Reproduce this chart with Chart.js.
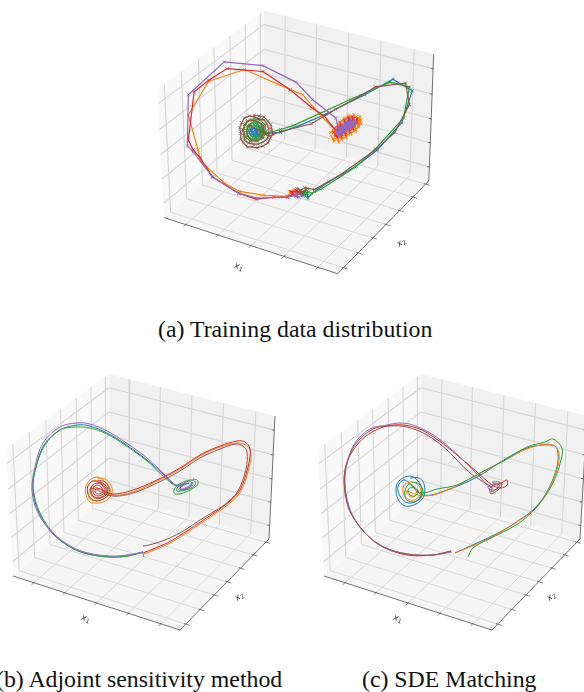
<!DOCTYPE html>
<html>
<head>
<meta charset="utf-8">
<script src="https://cdn.jsdelivr.net/npm/chart.js@4"></script>
<style>
  body { margin: 0; background: #fff; width: 584px; height: 692px; overflow: hidden; position: relative; }
  canvas { position: absolute; }
  .cap { position: absolute; font-family: "Liberation Serif", serif; font-size: 23.8px; color: #111; white-space: nowrap; }
  .ax { position: absolute; font-family: "DejaVu Sans", sans-serif; font-style: italic; font-size: 8.5px; color: #333; white-space: nowrap; }
  .ax sub { font-size: 6px; font-style: normal; vertical-align: -1.5px; line-height: 0; }
</style>
</head>
<body>
<canvas id="panelA" width="310" height="290" style="left:140px;top:0"></canvas>
<canvas id="panelB" width="290" height="270" style="left:0;top:370px"></canvas>
<canvas id="panelC" width="284" height="270" style="left:300px;top:370px"></canvas>

<div class="cap" style="left:158px;top:316px">(a) Training data distribution</div>
<div class="cap" style="left:-4px;top:666px">(b) Adjoint sensitivity method</div>
<div class="cap" style="left:362px;top:666px">(c) SDE Matching</div>

<div class="ax" style="left:239px;top:266px;transform:translate(-50%,-50%) rotate(18deg)">x<sub>1</sub></div>
<div class="ax" style="left:401px;top:242px;transform:translate(-50%,-50%) rotate(-35deg)">x<sub>2</sub></div>
<div class="ax" style="left:86px;top:618px;transform:translate(-50%,-50%) rotate(18deg)">x<sub>1</sub></div>
<div class="ax" style="left:239px;top:596px;transform:translate(-50%,-50%) rotate(-35deg)">x<sub>2</sub></div>
<div class="ax" style="left:398px;top:618px;transform:translate(-50%,-50%) rotate(18deg)">x<sub>1</sub></div>
<div class="ax" style="left:551px;top:596px;transform:translate(-50%,-50%) rotate(-35deg)">x<sub>2</sub></div>

<script>
// tick positions along each box edge, as a share of the edge length
const x1Ticks = [0.125, 0.31, 0.50, 0.69, 0.885];
const x2Ticks = [0.065, 0.225, 0.385, 0.53, 0.68, 0.825, 0.965];
const x3Ticks = [0.115, 0.316, 0.51, 0.70, 0.89];

// box corners: back top, right top, left top, left bottom, front, right bottom, back bottom
const boxA = [[263,6],[438,51],[153,87],[160,220],[339,278],[433,182],[263,133]];
const boxB = [[109,374],[275,416],[6,449],[13,576],[180,630],[269,539],[109,494]];
const boxC = [[421,374],[587,416],[318,449],[324,576],[492,630],[580,539],[421,494]];

const seriesColors = ['#1f77b4','#ff7f0e','#2ca02c','#d62728','#9467bd','#8c564b'];

// (a) training data
const aBlue = [[254,125],[258,126],[261,130],[259,135],[255,137],[250,136],[248,132],[250,127],[254,128],[258,129],[258,134],[254,135],[251,134],[250,130],[253,127],[256,130],[256,133],[253,134],[252,131],[254,130],[255,132],[258,136],[265,133],[280,132],[297,126],[327,113],[367,93],[396,77],[416,89],[405,122],[380,150],[358,167],[330,183],[315,193],[308,200],[308,195],[303,197],[306,193],[301,195]];
const aOrange = [[332,135],[335,141],[337,128],[343,139],[341,122],[348,137],[346,118],[353,133],[351,115],[358,130],[356,114],[363,123],[362,116],[360,126],[355,118],[353,127],[349,120],[348,131],[344,124],[344,134],[340,127],[340,142],[335,131],[339,137],[345,138],[350,134],[356,131],[361,126],[363,119],[358,116],[353,116],[348,117],[343,120],[339,124],[335,128],[332,132],[337,130],[322,115],[303,93],[277,82],[243,67],[206,79],[185,114],[195,150],[198,162],[223,185],[238,193],[263,197],[287,198],[293,192],[297,195],[291,194],[298,191],[295,197],[301,193],[289,193]];
const aGreen = [[253,118],[259,119],[264,124],[265,131],[262,138],[256,141],[249,141],[244,137],[242,130],[244,123],[249,119],[254,121],[260,123],[262,130],[260,136],[254,139],[248,138],[245,132],[246,125],[251,122],[256,123],[260,127],[259,134],[254,137],[249,135],[247,130],[249,125],[253,124],[265,133],[280,129],[293,125],[352,98],[393,80],[413,85],[407,117],[378,149],[357,168],[323,190],[312,195],[306,191],[303,197],[300,192],[306,198],[301,195],[309,194]];
const aRed = [[335,132],[338,137],[339,127],[343,136],[342,123],[347,134],[346,120],[351,131],[350,117],[355,128],[354,116],[359,122],[359,118],[356,124],[352,119],[350,127],[347,122],[345,131],[342,126],[340,133],[337,130],[325,115],[313,107],[290,88],[262,69],[225,66],[206,78],[191,90],[185,140],[190,150],[197,158],[210,178],[237,195],[255,201],[273,199],[287,199],[292,196],[296,198],[291,193],[299,194],[295,191],[302,196]];
const aPurple = [[337,130],[340,136],[340,127],[344,134],[343,124],[347,132],[346,122],[350,130],[349,120],[353,128],[352,118],[356,125],[356,118],[358,122],[354,121],[350,125],[346,127],[342,130],[338,133],[341,131],[345,129],[349,127],[353,124],[357,120],[355,123],[351,123],[347,125],[343,128],[339,131],[342,133],[346,131],[350,128],[354,126],[352,121],[348,122],[344,125],[340,129],[337,117],[313,98],[296,80],[262,63],[222,59],[185,93],[184,146],[190,152],[210,178],[237,195],[257,200],[280,199],[288,199],[294,197],[299,199],[296,195],[302,197],[300,194]];
const aBrown = [[253,114],[258,115],[263,116],[267,120],[270,124],[271,129],[272,134],[269,139],[267,143],[262,146],[256,148],[251,147],[246,147],[242,143],[239,139],[239,133],[238,127],[240,122],[243,117],[248,115],[253,116],[258,118],[263,119],[266,123],[268,128],[268,134],[266,139],[262,142],[257,144],[252,144],[247,143],[243,140],[242,135],[241,129],[243,124],[246,120],[251,119],[257,121],[262,125],[263,131],[261,137],[256,140],[250,140],[246,136],[245,130],[248,124],[268,136],[280,131],[312,123],[337,108],[363,94],[378,85],[409,81],[413,103],[398,132],[378,150],[343,175],[315,191],[305,189],[301,192],[297,190],[303,194],[308,190],[300,195]];

// (b) adjoint sensitivity
const bBlue = [[191,483],[191,486],[186,489],[181,490],[180,488],[184,485],[189,483],[178,485],[173,484],[163,474],[147,460],[125,444],[107,433],[90,426],[77,425],[60,430],[44,445],[36,467],[33,490],[39,513],[53,534],[72,548],[88,554],[110,557],[127,556],[143,552]];
const bOrange = [[97,478],[105,479],[111,485],[112,493],[107,500],[98,503],[90,502],[86,495],[86,486],[90,480],[97,477],[103,480],[109,486],[110,493],[105,498],[97,501],[90,499],[88,493],[88,485],[93,481],[99,481],[106,486],[107,493],[101,498],[94,498],[90,492],[92,486],[112,495],[133,492],[157,481],[180,469],[200,456],[220,447],[238,443],[247,446],[251,452],[249,468],[241,491],[231,502],[218,512],[203,522],[188,532],[168,544],[144,554]];
const bGreen = [[193,479],[197,480],[198,484],[192,489],[183,493],[175,494],[174,490],[178,485],[186,481],[193,480],[195,482],[195,485],[189,489],[181,491],[177,491],[177,488],[182,484],[176,486],[163,476],[147,461],[125,445],[107,434],[90,428],[75,427],[60,430],[45,445],[36,467],[33,487],[40,513],[55,535],[72,548],[88,554],[110,557],[128,556],[142,553],[144,557]];
const bRed = [[98,482],[104,484],[108,489],[106,495],[100,498],[94,497],[91,492],[92,486],[97,483],[102,485],[105,490],[103,494],[98,496],[94,494],[93,489],[96,485],[101,487],[103,491],[99,494],[95,492],[97,488],[112,494],[133,490],[157,480],[180,468],[200,455],[220,446],[237,441],[245,442],[250,449],[248,467],[240,490],[230,501],[217,511],[202,521],[187,531],[167,543],[143,553]];
const bPurple = [[192,482],[193,485],[187,488],[180,490],[178,489],[179,486],[184,483],[190,481],[192,483],[191,485],[185,488],[180,489],[180,487],[185,484],[178,486],[173,483],[163,473],[147,458],[125,442],[107,431],[90,424],[77,423],[60,427],[43,443],[35,467],[32,490],[38,513],[53,533],[72,547],[88,553],[110,556],[127,555],[143,552]];
const bBrown = [[98,480],[105,482],[109,488],[108,495],[101,500],[93,500],[88,494],[88,486],[93,481],[100,483],[106,488],[105,494],[98,498],[92,495],[91,488],[112,496],[133,493],[157,483],[180,471],[200,458],[220,449],[236,444],[243,446],[247,452],[246,469],[238,491],[228,502],[215,511],[200,520],[185,530],[165,540],[149,545],[143,546]];

// (c) SDE matching
const cBlue = [[410,478],[419,478],[424,484],[424,496],[416,504],[405,506],[398,499],[396,488],[400,480],[410,476],[418,481],[422,490],[418,500],[408,503],[400,496],[398,486],[405,480],[423,495],[447,490],[477,477],[507,458],[527,448],[543,445],[555,446],[558,453],[557,467],[548,490],[535,508],[518,521],[500,532],[477,543],[455,553]];
const cOrange = [[408,482],[416,483],[421,490],[418,498],[410,500],[404,495],[403,487],[408,483],[415,488],[416,495],[411,497],[406,491],[423,496],[443,492],[477,475],[507,459],[527,449],[547,444],[557,448],[559,460],[552,483],[537,507],[520,520],[499,533],[477,544],[455,553]];
const cGreen = [[412,482],[419,484],[423,491],[420,499],[412,502],[406,499],[405,491],[409,484],[414,487],[418,491],[415,496],[410,495],[408,490],[412,487],[422,493],[437,489],[457,485],[480,473],[507,459],[527,447],[545,442],[553,439],[562,448],[561,460],[553,483],[540,503],[522,521],[507,530],[487,540],[473,548],[468,557]];
const cRed = [[497,485],[503,482],[507,480],[507,485],[501,488],[492,485],[477,472],[457,455],[438,440],[417,428],[393,425],[372,432],[357,445],[346,465],[345,490],[350,510],[355,520],[367,535],[383,547],[407,555],[433,555],[451,551]];
const cPurple = [[493,483],[497,485],[498,488],[493,490],[488,488],[490,485],[496,484],[490,487],[480,477],[463,460],[443,442],[430,433],[413,425],[400,423],[387,425],[370,429],[355,443],[347,463],[345,483],[348,503],[355,520],[367,535],[383,547],[407,554],[433,555],[452,552]];
const cBrown = [[492,482],[499,482],[502,485],[498,490],[491,494],[490,492],[490,488],[496,484],[500,484],[498,488],[491,492],[492,488],[490,486],[470,473],[447,450],[427,435],[407,427],[390,426],[373,429],[355,445],[346,467],[344,483],[348,507],[355,520],[367,535],[384,547],[407,554],[433,555],[451,551]];

function lerp(p, q, t) {
  return { x: p[0] + (q[0] - p[0]) * t, y: p[1] + (q[1] - p[1]) * t };
}

// point on a four corner face, u along the near and far edge, v from near to far
function onFace(a, b, c, d, u, v) {
  const p = lerp(a, b, u), q = lerp(c, d, u);
  return lerp([p.x, p.y], [q.x, q.y], v);
}

function edge(points, color, width) {
  return { data: points, borderColor: color, borderWidth: width, pointRadius: 0, showLine: true, tension: 0 };
}

function makePanel(id, box, curves, marked) {
  const canvas = document.getElementById(id);
  const left = parseInt(canvas.style.left), top = parseInt(canvas.style.top);
  const [bt, rt, lt, lb, fr, rb, bb] = box;
  const sets = [];
  const toPts = list => list.map(p => ({ x: p[0], y: p[1] }));

  // panes
  [[[lt, bt, bb, lb], '#f9f9f9'], [[bt, rt, rb, bb], '#f1f1f1'], [[lb, fr, rb, bb], '#f5f5f5']].forEach(([quad, color]) => {
    sets.push({ data: toPts(quad.concat([quad[0]])), borderColor: color, borderWidth: 0, backgroundColor: color, fill: 'shape', pointRadius: 0, showLine: true, tension: 0 });
  });

  // grid lines on walls and floor
  const gridColor = '#d6d6d6';
  x1Ticks.forEach(t => {
    sets.push(edge([lerp(bt, rt, t), lerp(bb, rb, t)], gridColor, 1.1));
    sets.push(edge([lerp(bb, rb, t), lerp(lb, fr, t)], gridColor, 0.9));
  });
  x2Ticks.forEach(t => {
    sets.push(edge([lerp(lt, bt, t), lerp(lb, bb, t)], gridColor, 1.1));
    sets.push(edge([lerp(lb, bb, t), lerp(fr, rb, t)], gridColor, 0.9));
  });
  x3Ticks.forEach(t => {
    sets.push(edge([lerp(lt, lb, t), lerp(bt, bb, t)], gridColor, 1.1));
    sets.push(edge([lerp(bt, bb, t), lerp(rt, rb, t)], gridColor, 1.1));
  });

  // axis lines and tick marks
  const axisColor = '#707070';
  sets.push(edge(toPts([lb, fr, rb]), axisColor, 1));
  sets.push(edge(toPts([rt, rb]), axisColor, 1));
  x1Ticks.forEach(t => sets.push(edge([onFace(lb, fr, bb, rb, t, -0.025), onFace(lb, fr, bb, rb, t, 0.01)], '#555', 0.7)));
  x2Ticks.forEach(t => sets.push(edge([onFace(fr, rb, lb, bb, t, -0.025), onFace(fr, rb, lb, bb, t, 0.01)], '#555', 0.7)));
  x3Ticks.forEach(t => {
    const p = lerp(rt, rb, t);
    sets.push(edge([{ x: p.x - 2.5, y: p.y - 0.3 }, { x: p.x + 0.5, y: p.y }], '#555', 0.7));
  });

  // trajectories, later series on top
  curves.forEach((curve, i) => {
    sets.push({
      data: toPts(curve),
      borderColor: seriesColors[i],
      backgroundColor: seriesColors[i],
      borderWidth: marked ? 1.2 : 1,
      showLine: true,
      tension: marked ? 0 : 0.35,
      pointStyle: 'crossRot',
      pointRadius: marked ? 2.2 : 0,
      pointBorderWidth: 0.7,
      pointBorderColor: seriesColors[i]
    });
  });

  new Chart(canvas.getContext('2d'), {
    type: 'scatter',
    data: { datasets: sets.reverse() },
    options: {
      responsive: false,
      animation: false,
      layout: { padding: 0 },
      plugins: { legend: { display: false }, tooltip: { enabled: false } },
      scales: {
        x: { type: 'linear', display: false, min: left, max: left + canvas.width },
        y: { type: 'linear', display: false, reverse: true, min: top, max: top + canvas.height }
      }
    }
  });
}

makePanel('panelA', boxA, [aBlue, aOrange, aGreen, aRed, aPurple, aBrown], true);
makePanel('panelB', boxB, [bBlue, bOrange, bGreen, bRed, bPurple, bBrown], false);
makePanel('panelC', boxC, [cBlue, cOrange, cGreen, cRed, cPurple, cBrown], false);
</script>
</body>
</html>
